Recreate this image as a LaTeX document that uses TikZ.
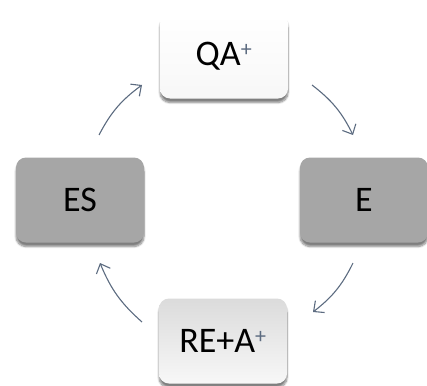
\documentclass[tikz,border=0pt]{standalone}
\usepackage{fontspec}
\setmainfont{Carlito}
\usepackage{tikz}
\usetikzlibrary{arrows.meta}
\usetikzlibrary{shadows,shadows.blur}
\definecolor{arrowcol}{HTML}{5C6B80}
\definecolor{boxgray}{HTML}{A6A6A6}
\tikzstyle{state} = [rounded corners=10pt, minimum width=128pt, minimum height=85pt, inner sep=0pt,
	font=\fontsize{36}{40}\selectfont,
	blur shadow={shadow xshift=0pt, shadow yshift=-4pt, shadow blur steps=8, shadow opacity=50}]
\tikzstyle{cycle} = [draw=arrowcol, line width=1.1pt, -{Straight Barb[length=8pt, width=15pt, line width=1.1pt]}, bend left=13]
\newcommand{\plus}{\textsuperscript{\color{arrowcol}\fontsize{22}{24}\selectfont +}}

\begin{document}
\begin{tikzpicture}[x=1pt,y=-1pt]
	\useasboundingbox (0,0) rectangle (427,385);

	% ------------------- Boxes ------------------- %
	\node[state, top color=white, bottom color=gray!6] (qa) at (224,56) {QA\plus};
	\node[state, fill=boxgray] (e) at (364,200) {E};
	\node[state, top color=gray!28, bottom color=gray!6] (re) at (223,341) {RE+A\plus};
	\node[state, fill=boxgray] (es) at (80,200) {ES};

	% ------------------- Arrow ends ------------------- %
	\coordinate (esout) at (99,135);
	\coordinate (qain) at (142,85);
	\coordinate (qaout) at (312,85);
	\coordinate (ein) at (353,135);
	\coordinate (eout) at (353,263);
	\coordinate (rein) at (313,312);
	\coordinate (reout) at (142,322);
	\coordinate (esin) at (100,263);

	% ------------------- Curved arrows ------------------- %
	\draw[cycle] (esout) to (qain);
	\draw[cycle] (qaout) to (ein);
	\draw[cycle] (eout) to (rein);
	\draw[cycle] (reout) to (esin);
\end{tikzpicture}
\end{document}
